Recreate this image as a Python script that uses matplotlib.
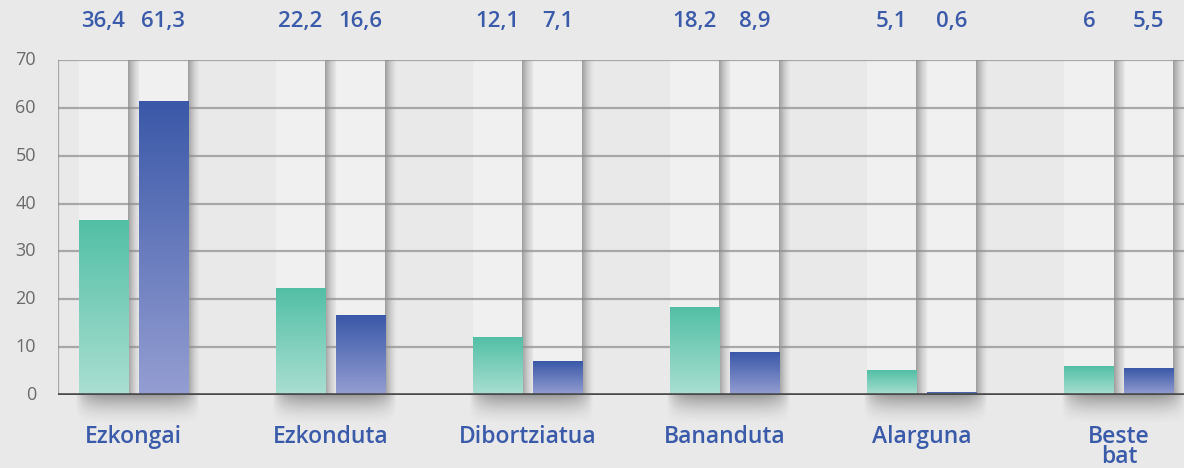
import numpy as np
import matplotlib
matplotlib.use("Agg")
import matplotlib.pyplot as plt
from matplotlib.colors import LinearSegmentedColormap

categories = ["Ezkongai", "Ezkonduta", "Dibortziatua", "Bananduta", "Alarguna", "Beste\nbat"]
teal_values = [36.4, 22.2, 12.1, 18.2, 5.1, 6.0]
blue_values = [61.3, 16.6, 7.1, 8.9, 0.6, 5.5]
teal_labels = ["36,4", "22,2", "12,1", "18,2", "5,1", "6"]
blue_labels = ["61,3", "16,6", "7,1", "8,9", "0,6", "5,5"]
yticks = [0, 10, 20, 30, 40, 50, 60, 70]

bg = "#e9e9e9"
text_blue = "#3a5aaa"
plt.rcParams['font.family'] = ['Open Sans', 'DejaVu Sans']

W, H = 1184, 468
fig = plt.figure(figsize=(W / 100, H / 100), dpi=100, facecolor=bg)
ax = fig.add_axes([58 / W, (H - 395) / H, (W - 58) / W, (395 - 60) / H])
ax.set_facecolor(bg)

x = np.arange(len(categories))
bw = 0.249
off = 0.152
ymax = 70

teal_cmap = LinearSegmentedColormap.from_list("teal", ["#aadfd2", "#52bfa5"])
blue_cmap = LinearSegmentedColormap.from_list("blue", ["#959ed2", "#3a58a8"])
grad = np.linspace(0, 1, 256).reshape(-1, 1)

# shadow gradient (dark -> transparent, left to right)
sh = np.zeros((1, 64, 4))
sh[..., 3] = np.linspace(0.5, 0, 64) ** 1.6
sh_w = 0.065

# light column panels with shadow on the right
for xc in list(x - off) + list(x + off):
    ax.bar(xc, ymax, width=bw, color="#f0f0f0", zorder=1, linewidth=0)
    ax.imshow(sh, extent=[xc + bw / 2, xc + bw / 2 + sh_w, 0, ymax],
              aspect="auto", zorder=1.5, interpolation="bilinear")

# grid lines
for t in yticks[1:]:
    ax.axhline(t, color="#8c8c8c", lw=1.6, alpha=0.7, zorder=2)
ax.plot([x[0] - 0.383 + 0.002] * 2, [0, ymax], color="#8c8c8c", lw=1.6, alpha=0.7, zorder=2)

# gradient bars
for vals, offs, cmap in [(teal_values, -off, teal_cmap), (blue_values, off, blue_cmap)]:
    for xi, v in zip(x, vals):
        xc = xi + offs
        ax.imshow(grad, extent=[xc - bw / 2, xc + bw / 2, 0, v], origin="lower",
                  cmap=cmap, aspect="auto", zorder=3, interpolation="bilinear")

# soft shadow under baseline
ny, nx = 40, 80
vy = np.linspace(0, 1, ny).reshape(-1, 1)
vx = np.linspace(-1, 1, nx).reshape(1, -1)
shd = np.zeros((ny, nx, 4))
shd[..., 3] = 0.35 * (1 - vy) ** 1.8 * np.clip(1 - np.abs(vx) ** 6, 0, 1)
for xi in x:
    ax.imshow(shd, extent=[xi - off - bw / 2 - 0.02, xi + off + bw / 2 + 0.06, -6.5, 0], origin="upper",
              aspect="auto", zorder=1, clip_on=False, interpolation="bilinear")

ax.axhline(0, color="#4a4a4a", lw=2.6, zorder=4)

# value labels on top
for xi, tl, bl in zip(x, teal_labels, blue_labels):
    ax.text(xi - off, 78.0, tl, ha="center", va="center", color=text_blue,
            fontsize=16, fontweight="semibold", clip_on=False)
    ax.text(xi + off, 78.0, bl, ha="center", va="center", color=text_blue,
            fontsize=16, fontweight="semibold", clip_on=False)

# category labels
for xi, c in zip(x, categories):
    ax.text(xi, -6.2, c, ha="center", va="top", color=text_blue, fontsize=16.5,
            fontweight="semibold", linespacing=0.78, clip_on=False)

for t in yticks:
    ax.text(-0.495, t, str(t), ha="right", va="center", color="#6a6a6a", fontsize=13,
            clip_on=False)

ax.set_xlim(-0.383, 5.33)
ax.set_ylim(0, ymax)
ax.axis("off")

fig.savefig("out.png", dpi=100, facecolor=bg)
